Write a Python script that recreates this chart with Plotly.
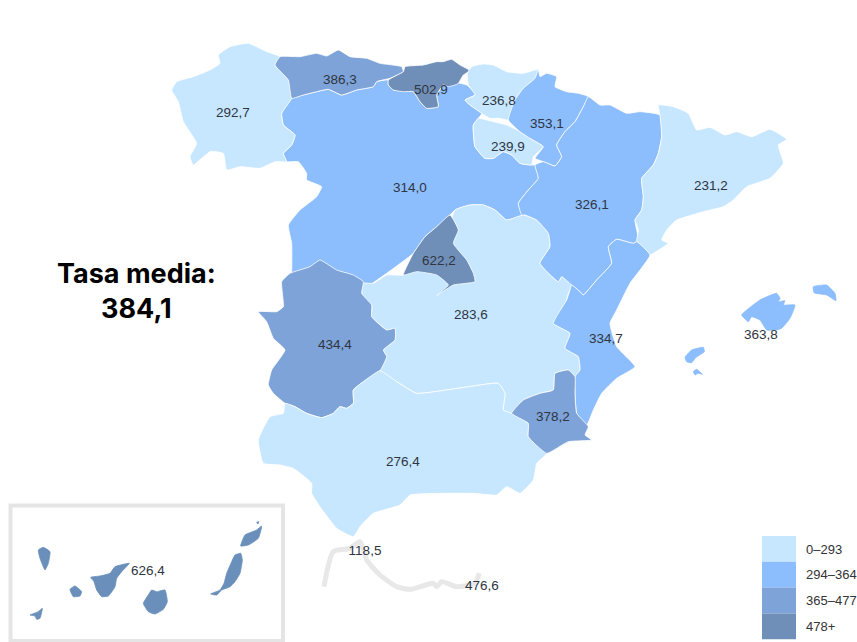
import plotly.graph_objects as go

# Outlines are traced in crop frames of the map, then moved to a common map frame.
def z1(p): return [(160 + x / 3, 30 + y / 3) for x, y in p]
def z2(p): return [(440 + x / 3, 50 + y / 3) for x, y in p]
def z3(p): return [(240 + x / 3, 250 + y / 3) for x, y in p]
def z4(p): return [(x / 3, 490 + y / 3) for x, y in p]
def z5(p): return [(300 + x / 3, 520 + y / 3) for x, y in p]
def z6(p): return [(670 + x / 3, 270 + y / 3) for x, y in p]

BIN_LABELS = ["0–293", "294–364", "365–477", "478+"]
BIN_LOWER = [0, 293.5, 364.5, 477.5]
BIN_COLORS = ["#C6E7FF", "#8CBDFD", "#7DA3D8", "#6F8FB8"]

GALICIA = z1([(35,180),(50,155),(100,140),(150,120),(180,100),(175,75),(210,50),(265,40),(320,65),(360,80),(345,105),(385,150),(395,205),(365,250),(370,285),(405,315),(395,345),(370,370),(380,395),(345,395),(300,415),(240,410),(200,420),(190,370),(150,365),(100,405),(90,380),(110,340),(70,275),(55,215)])
ASTURIAS = z1([(345,105),(360,80),(420,80),(470,70),(500,78),(535,60),(570,80),(620,85),(660,100),(725,110),(730,125),(690,145),(650,155),(640,170),(590,180),(545,195),(505,178),(470,185),(430,195),(395,205),(385,150)])
CANTABRIA = z1([(685,150),(730,125),(735,110),(790,105),(830,95),(850,95),(875,88),(900,105),(930,122),(910,135),(895,160),(885,165),(865,170),(850,165),(830,195),(835,230),(800,235),(780,215),(760,185),(730,185),(700,180),(685,165)])
CASTILLA_LEON = (z1([(395,205),(430,195),(470,185),(505,178),(545,195),(590,180),(640,170),(650,155),(685,150),(685,165),(700,180),(760,185),(780,215),(800,235),(835,230),(830,195),(850,165),(885,160)])
    + z2([(50,98),(80,105),(108,133),(75,150),(90,165),(125,190),(100,225),(105,290),(135,325),(160,325),(190,305),(215,315),(240,340),(275,345),(285,345),(295,385),(265,420),(235,460),(245,495),(200,510),(165,480),(130,465),(90,465),(45,480)])
    + z1([(870,555),(830,590),(795,620),(760,670),(680,730),(625,770),(610,800),(500,800),(385,800),(395,725),(395,640),(385,585),(420,540),(470,500),(485,470),(440,450),(440,430),(415,395),(380,395),(370,370),(395,345),(405,315),(370,285),(365,250)]))
PAIS_VASCO = z2([(82,70),(95,50),(130,42),(160,45),(200,65),(250,70),(295,58),(285,85),(250,115),(225,150),(215,195),(205,210),(175,205),(150,205),(125,190),(90,165),(75,150),(105,135),(85,105)])
LA_RIOJA = z2([(100,225),(115,205),(160,215),(200,225),(240,245),(270,265),(310,290),(280,320),(275,345),(240,340),(215,315),(190,305),(160,325),(135,325),(105,290)])
NAVARRA = z2([(295,58),(300,80),(320,70),(350,80),(345,110),(380,125),(415,130),(445,140),(430,170),(405,215),(375,245),(350,285),(365,320),(345,348),(310,335),(285,325),(310,290),(270,265),(240,245),(205,210),(225,150),(250,115),(285,85)])
ARAGON = z2([(445,140),(480,165),(510,165),(560,190),(600,185),(660,195),(665,260),(655,310),(640,345),(605,385),(610,440),(605,480),(585,510),(595,570),(580,580),(530,568),(505,590),(515,640),(470,690),(430,735),(420,725),(395,705),(365,680),(355,695),(300,640),(330,590),(325,550),(290,510),(255,495),(245,495),(235,460),(265,420),(295,385),(285,345),(310,335),(345,348),(365,320),(350,285),(375,245),(405,215),(430,170)])
CATALUNA = z2([(655,165),(700,170),(745,190),(770,240),(810,232),(855,255),(890,245),(935,260),(990,238),(1040,268),(1015,285),(1030,340),(990,385),(920,410),(880,450),(850,470),(790,485),(710,510),(680,540),(665,570),(685,580),(640,610),(630,615),(590,575),(595,540),(585,510),(605,480),(610,440),(605,385),(640,345),(655,310),(665,260),(660,195)])
VALENCIA = (z2([(590,575),(630,615),(570,700),(530,780)])
    + z3([(1110,220),(1130,290),(1185,350),(1130,385),(1085,430),(1060,480),(1040,525),(1010,490),(1005,430),(1005,380),(1020,360),(1015,320),(975,295),(990,250),(940,220),(980,150),(990,120)])
    + z2([(395,705),(420,725),(430,735),(470,690),(515,640),(505,590),(530,568),(580,580)]))
CASTILLA_MANCHA = (z2([(45,480),(90,465),(130,465),(165,480),(200,510),(250,495),(290,510),(325,550),(330,590),(300,640),(355,695),(365,680),(395,705),(385,730),(370,780)])
    + z3([(940,220),(990,250),(975,295),(1015,320),(1020,360),(1005,380),(985,360),(945,370),(940,420),(900,430),(850,450),(815,490),(790,480),(795,430),(775,400),(700,408),(620,420),(530,430),(470,395),(420,362),(440,320),(430,300),(465,270),(465,235),(440,240),(395,200),(395,165),(370,150),(365,100),(400,100),(440,75),(490,75),(525,40),(600,20)]))
MADRID = (z1([(870,555),(895,600),(880,640),(920,690),(940,730)])
    + z3([(705,95),(640,105),(590,137),(625,105),(590,75),(530,65),(490,75)])
    + z1([(760,670),(795,620),(830,590)]))
EXTREMADURA = z3([(55,185),(110,185),(130,170),(125,95),(150,70),(210,50),(240,30),(290,60),(340,75),(370,95),(365,130),(395,165),(395,200),(440,240),(465,235),(465,270),(430,300),(440,320),(420,362),(370,395),(340,420),(340,460),(320,475),(300,470),(280,490),(245,503),(200,490),(165,470),(135,460),(100,430),(85,405),(95,360),(135,300),(100,265),(80,215)])
MURCIA = z3([(815,490),(850,450),(900,430),(940,420),(945,370),(985,360),(1005,380),(1005,430),(1010,490),(1045,530),(1035,555),(1055,570),(985,575),(920,610),(865,560),(865,520)])
ANDALUCIA = z3([(135,460),(165,470),(200,490),(245,503),(280,490),(300,470),(320,475),(340,460),(340,420),(370,395),(420,362),(470,395),(530,430),(620,420),(700,408),(775,400),(795,430),(790,480),(815,490),(865,520),(865,560),(920,610),(890,640),(880,690),(840,730),(800,710),(770,735),(700,730),(600,730),(510,735),(480,765),(400,790),(360,830),(340,860),(290,835),(240,770),(215,730),(215,700),(160,655),(120,645),(70,640),(55,570),(90,500),(130,490)])
MALLORCA = z6([(215,135),(270,90),(320,70),(330,85),(325,95),(345,92),(340,105),(375,105),(360,145),(335,175),(320,180),(290,180),(270,150),(245,140),(235,155)])
MENORCA = z6([(430,50),(470,45),(495,70),(498,92),(470,75),(432,68)])
IBIZA = z6([(45,262),(65,240),(100,232),(103,245),(78,262),(65,278),(50,275)])
FORMENTERA = z6([(70,305),(80,298),(97,313),(85,310),(75,315)])
TENERIFE = z4([(272,262),(300,258),(330,250),(345,230),(388,220),(365,245),(350,265),(345,290),(325,318),(305,320),(290,300),(282,275)])
LA_PALMA = z4([(115,180),(130,172),(150,185),(145,220),(135,240),(120,205)])
LA_GOMERA = z4([(210,298),(225,288),(245,305),(240,318),(220,320)])
EL_HIERRO = z4([(90,375),(115,365),(127,355),(120,385),(110,388),(105,378)])
GRAN_CANARIA = z4([(430,340),(445,315),(455,300),(470,305),(495,300),(502,335),(490,358),(465,372),(445,365)])
FUERTEVENTURA = z4([(632,312),(660,300),(672,280),(680,250),(695,215),(705,195),(722,190),(727,210),(720,250),(705,275),(690,290),(665,300),(650,315)])
LANZAROTE = z4([(722,168),(735,135),(770,120),(785,108),(775,145),(745,165)])
GRACIOSA = z4([(770,97),(776,95),(774,102)])
CEUTA_MELILLA_TRACE = z5([(72,200),(100,95),(150,85),(180,65),(200,120),(240,165),(290,200),(330,208),(400,190),(410,200),(425,185),(470,200),(525,190),(538,160)])

REGION_NAMES = ["Castilla y León", "Castilla-La Mancha", "Galicia", "Asturias", "Cantabria", "País Vasco", "La Rioja", "Navarra", "Aragón", "Cataluña", "C. Valenciana", "Madrid", "Extremadura", "Andalucía", "Murcia", "Baleares", "Canarias"]
REGION_VALUES = [314.0, 283.6, 292.7, 386.3, 502.9, 236.8, 239.9, 353.1, 326.1, 231.2, 334.7, 622.2, 434.4, 276.4, 378.2, 363.8, 626.4]
REGION_SHAPES = [[CASTILLA_LEON], [CASTILLA_MANCHA], [GALICIA], [ASTURIAS], [CANTABRIA], [PAIS_VASCO], [LA_RIOJA], [NAVARRA], [ARAGON], [CATALUNA], [VALENCIA], [MADRID], [EXTREMADURA], [ANDALUCIA], [MURCIA],
                 [MALLORCA, MENORCA, IBIZA, FORMENTERA],
                 [TENERIFE, LA_PALMA, LA_GOMERA, EL_HIERRO, GRAN_CANARIA, FUERTEVENTURA, LANZAROTE, GRACIOSA]]
DARK_CANARIAS = "#6A8FBA"

LABEL_TEXT = ["292,7","386,3","502,9","236,8","353,1","239,9","314,0","231,2","326,1","622,2","283,6","334,7","363,8","434,4","378,2","276,4","626,4","118,5","476,6"]
LABEL_X = [233,340,431,499,547,508,410,711,592,439,471,606,761,335,553,403,148,365,482]
LABEL_Y = [114,81,91,102,125,148,189,187,206,262,316,340,336,346,418,463,572,552,587]

def color_for(v):
    c = BIN_COLORS[0]
    for low, col in zip(BIN_LOWER, BIN_COLORS):
        if v >= low:
            c = col
    return c

fig = go.Figure()
fig.add_trace(go.Scatter(x=[p[0] for p in CEUTA_MELILLA_TRACE], y=[p[1] for p in CEUTA_MELILLA_TRACE],
                         mode="lines", line=dict(color="#E8E8E8", width=5, shape="spline", smoothing=0.6), hoverinfo="skip"))
for name, val, polys in zip(REGION_NAMES, REGION_VALUES, REGION_SHAPES):
    xs, ys = [], []
    for poly in polys:
        xs += [p[0] for p in poly] + [poly[0][0], None]
        ys += [p[1] for p in poly] + [poly[0][1], None]
    col = DARK_CANARIAS if name == "Canarias" else color_for(val)
    fig.add_trace(go.Scatter(x=xs, y=ys, mode="lines", fill="toself", fillcolor=col,
                             line=dict(color="#FFFFFF" if name not in ("Baleares", "Canarias") else col, width=0.8,
                                       shape="spline", smoothing=0.4),
                             name=name, text=str(val), hoverinfo="text+name"))
fig.add_trace(go.Scatter(x=LABEL_X, y=LABEL_Y, text=LABEL_TEXT, mode="text",
                         textfont=dict(family="Liberation Sans", size=13.5, color="#2F3542"), hoverinfo="skip"))

# Canarias inset frame
fig.add_shape(type="rect", x0=10.5, y0=505.5, x1=283, y1=641, line=dict(color="#E5E5E5", width=4), layer="below")

# Legend
for i, (lab, col) in enumerate(zip(BIN_LABELS, BIN_COLORS)):
    y0 = 536 + i * 25.8
    fig.add_shape(type="rect", x0=762, x1=796, y0=y0, y1=y0 + 25.8, fillcolor=col, line=dict(width=0))
    fig.add_annotation(x=804, y=y0 + 13, text=lab, showarrow=False, xanchor="left", yanchor="middle",
                       font=dict(family="Liberation Sans", size=13, color="#333333"))

fig.add_annotation(x=136, y=291, text="<b>Tasa media:<br>384,1</b>", showarrow=False, align="center",
                   font=dict(family="Inter", size=27, color="#000000"))

fig.update_layout(width=857, height=642, margin=dict(l=0, r=0, t=0, b=0), showlegend=False,
                  plot_bgcolor="white", paper_bgcolor="white",
                  xaxis=dict(range=[0, 857], visible=False, fixedrange=True),
                  yaxis=dict(range=[642, 0], visible=False, fixedrange=True))
fig.write_html("out.html", post_script="document.body.style.margin='0';document.documentElement.style.overflow='hidden';",
               config={"displayModeBar": False})
